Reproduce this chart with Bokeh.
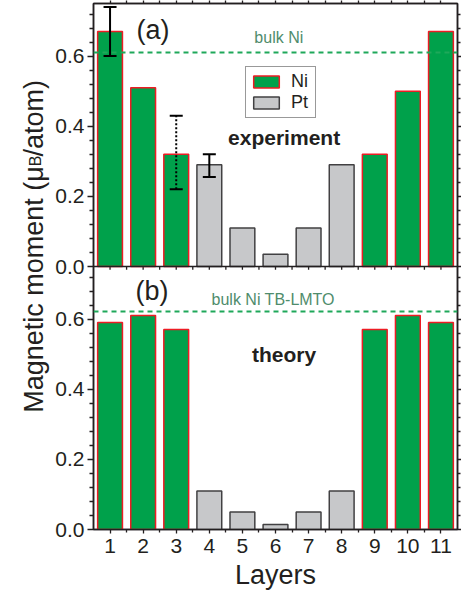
import math

from bokeh.plotting import figure
from bokeh.layouts import row
from bokeh.core.properties import value
from bokeh.models import (Range1d, LinearAxis, FixedTicker, CustomJSTickFormatter, Span,
                          Label, Whisker, TeeHead, ColumnDataSource, Legend, LegendItem)
from bokeh.embed import file_html
from bokeh.resources import INLINE

# Layer-resolved magnetic moments of a Ni/Pt multilayer (mu_B per atom)
layers = list(range(1, 12))
elements = ["Ni", "Ni", "Ni", "Pt", "Pt", "Pt", "Pt", "Pt", "Ni", "Ni", "Ni"]
experiment = [0.67, 0.51, 0.32, 0.29, 0.11, 0.035, 0.11, 0.29, 0.32, 0.50, 0.67]
theory = [0.59, 0.61, 0.57, 0.11, 0.05, 0.014, 0.05, 0.11, 0.57, 0.61, 0.59]

bulk_ni_experiment = 0.61
bulk_ni_tb_lmto = 0.622

# error bars on the experimental values
err_layers = [1, 4]
err_lower = [0.60, 0.255]
err_upper = [0.74, 0.32]
dotted_err_layers = [3]
dotted_err_lower = [0.22]
dotted_err_upper = [0.43]

y_tick_values = [0.0, 0.2, 0.4, 0.6]

PANEL = 0.75          # height of each panel in mu_B
BAR_W = 0.75
FONT = "Liberation Sans"
INK = "#231f20"
NI_FILL, NI_EDGE = "#00a14b", "#ed1c24"
PT_FILL, PT_EDGE = "#c7c8ca", "#414042"
BULK_LINE = "#1fa85a"
BULK_TEXT = "#4f8c6c"

TITLE_W = 52          # strip on the left that carries the y title
W, H = 461, 598

p = figure(width=W - TITLE_W, height=H, output_backend="svg", toolbar_location=None,
           x_range=Range1d(0.5, 11.5), y_range=Range1d(0, 2 * PANEL),
           x_axis_type=None, y_axis_type=None,
           min_border_left=92 - TITLE_W, min_border_right=4,
           min_border_top=3, min_border_bottom=69)
# upper panel (experiment) lives in the top half of the frame
p.extra_y_ranges = {"top": Range1d(-PANEL, PANEL)}
p.outline_line_color = INK
p.outline_line_width = 1.5

# ---- axes -------------------------------------------------------------
minor_y = [round(k * 0.04, 2) for k in range(1, 19) if k % 5]
y_major = y_tick_values + [round(t + PANEL, 3) for t in y_tick_values]
y_minor = minor_y + [round(t + PANEL, 3) for t in minor_y]
yticker = FixedTicker(ticks=y_major, minor_ticks=y_minor)
yfmt = CustomJSTickFormatter(args=dict(span=PANEL), code="""
    const v = tick >= span - 1e-6 ? tick - span : tick;
    return v.toFixed(1);
""")
blank = CustomJSTickFormatter(code='return "";')

def style_axis(ax):
    ax.axis_line_color = INK
    ax.axis_line_width = 1.5
    ax.major_tick_line_color = INK
    ax.minor_tick_line_color = INK
    ax.major_tick_line_width = 1.3
    ax.minor_tick_line_width = 1.3
    ax.major_label_text_font = FONT
    ax.major_label_text_font_size = "21px"
    ax.major_label_text_color = INK
    ax.axis_label_text_font = FONT
    ax.axis_label_text_font_style = "normal"
    ax.axis_label_text_color = INK

left = LinearAxis(ticker=yticker, formatter=yfmt)
style_axis(left)
left.major_tick_out, left.major_tick_in = 6, 0
left.minor_tick_out, left.minor_tick_in = 4, 0
left.major_label_standoff = 3
p.add_layout(left, "left")

right = LinearAxis(ticker=yticker, formatter=blank)
style_axis(right)
right.major_tick_out, right.major_tick_in = 4, 0
right.minor_tick_out, right.minor_tick_in = 3, 0
right.major_label_standoff = 0
p.add_layout(right, "right")

half_steps = [l + 0.5 for l in layers[:-1]]
xticker = FixedTicker(ticks=layers, minor_ticks=half_steps)

bottom = LinearAxis(ticker=xticker, axis_label="Layers")
style_axis(bottom)
bottom.major_tick_out, bottom.major_tick_in = 4, 0
bottom.minor_tick_out, bottom.minor_tick_in = 3, 0
bottom.major_label_standoff = 5
bottom.axis_label_text_font_size = "27px"
bottom.axis_label_standoff = 4
p.add_layout(bottom, "below")

above = LinearAxis(ticker=xticker, formatter=blank)
style_axis(above)
above.major_tick_out, above.major_tick_in = 3, 0
above.minor_tick_out, above.minor_tick_in = 3, 0
above.major_label_standoff = 0
p.add_layout(above, "above")

# shared boundary between the two panels, with its small ticks
p.add_layout(Span(location=0, dimension="width", y_range_name="top",
                  line_color=INK, line_width=1.5))
p.segment(x0=layers + half_steps, y0=0, x1=layers + half_steps, y1=-0.009,
          y_range_name="top", line_color=INK, line_width=1.3)

# ---- bars ---------------------------------------------------------------
def pick(values, el):
    xs = [l for l, e in zip(layers, elements) if e == el]
    ys = [v for v, e in zip(values, elements) if e == el]
    return xs, ys

ni_x, ni_exp = pick(experiment, "Ni")
pt_x, pt_exp = pick(experiment, "Pt")
_, ni_th = pick(theory, "Ni")
_, pt_th = pick(theory, "Pt")

r_ni = p.vbar(x=ni_x, top=ni_exp, bottom=0, width=BAR_W, y_range_name="top",
              fill_color=NI_FILL, line_color=NI_EDGE, line_width=1.5)
r_pt = p.vbar(x=pt_x, top=pt_exp, bottom=0, width=BAR_W, y_range_name="top",
              fill_color=PT_FILL, line_color=PT_EDGE, line_width=1.5)
p.vbar(x=ni_x, top=ni_th, bottom=0, width=BAR_W,
       fill_color=NI_FILL, line_color=NI_EDGE, line_width=1.5)
p.vbar(x=pt_x, top=pt_th, bottom=0, width=BAR_W,
       fill_color=PT_FILL, line_color=PT_EDGE, line_width=1.5)

# ---- error bars ---------------------------------------------------------
def tee():
    return TeeHead(size=13, line_color="black", line_width=2)

err_src = ColumnDataSource(dict(x=err_layers, lower=err_lower, upper=err_upper))
p.add_layout(Whisker(source=err_src, base="x", lower="lower", upper="upper",
                     y_range_name="top", level="overlay", line_color="black",
                     line_width=2, upper_head=tee(), lower_head=tee()))
dot_src = ColumnDataSource(dict(x=dotted_err_layers, lower=dotted_err_lower,
                                upper=dotted_err_upper))
p.add_layout(Whisker(source=dot_src, base="x", lower="lower", upper="upper",
                     y_range_name="top", level="overlay", line_color="black",
                     line_width=2, line_dash="2 2", upper_head=tee(), lower_head=tee()))

# ---- bulk Ni references -------------------------------------------------
p.add_layout(Span(location=bulk_ni_experiment, dimension="width", y_range_name="top",
                  line_color=BULK_LINE, line_width=2, line_dash="5 4"))
p.add_layout(Span(location=bulk_ni_tb_lmto, dimension="width",
                  line_color=BULK_LINE, line_width=2, line_dash="5 4"))

def text(x, y, s, size, rng="default", style="normal", color=INK):
    p.add_layout(Label(x=x, y=y, text=s, y_range_name=rng, text_font=FONT,
                       text_font_size=size, text_font_style=style, text_color=color,
                       text_align="center", text_baseline="alphabetic"))

text(6.1, 0.652, "bulk Ni", "16px", rng="top", color=BULK_TEXT)
text(5.93, 0.656, "bulk Ni TB-LMTO", "16px", color=BULK_TEXT)
text(2.3, 0.675, "(a)", "27px", rng="top")
text(2.27, 0.681, "(b)", "27px")
text(6.26, 0.368, "experiment", "21px", rng="top", style="bold")
text(6.26, 0.498, "theory", "21px", style="bold")

# ---- legend ---------------------------------------------------------------
legend = Legend(items=[LegendItem(label="Ni", renderers=[r_ni]),
                       LegendItem(label="Pt", renderers=[r_pt])],
                location=(152, 411), margin=0, padding=4, spacing=0,
                glyph_width=32, glyph_height=15, label_height=15, label_standoff=9,
                label_text_font=FONT, label_text_font_size="18px", label_text_color=INK,
                border_line_color="#333333", border_line_width=1.2,
                background_fill_color="white", background_fill_alpha=1.0)
p.add_layout(legend)

# ---- y title strip: "Magnetic moment (μ_B/atom)" read bottom-to-top -------
t = figure(width=TITLE_W, height=H, output_backend="svg", toolbar_location=None,
           x_range=Range1d(0, TITLE_W), y_range=Range1d(0, H),
           x_axis_type=None, y_axis_type=None, min_border=0)
t.outline_line_color = None
t.grid.visible = False

title_end = H - 185     # where "(μ" ends and the subscript begins
t.text(x=[33], y=[title_end], text=["Magnetic moment (\u03bc"], angle=math.pi / 2,
       text_align="right", text_baseline="alphabetic",
       text_font=value(FONT), text_font_size="27px", text_color=INK)
t.text(x=[35], y=[title_end], text=["B"], angle=math.pi / 2,
       text_align="left", text_baseline="alphabetic",
       text_font=value(FONT), text_font_size="16px", text_color=INK)
t.text(x=[33], y=[title_end + 11], text=["/atom)"], angle=math.pi / 2,
       text_align="left", text_baseline="alphabetic",
       text_font=value(FONT), text_font_size="27px", text_color=INK)

layout = row(t, p, spacing=0)
open("out.html", "w").write(file_html(layout, INLINE))
